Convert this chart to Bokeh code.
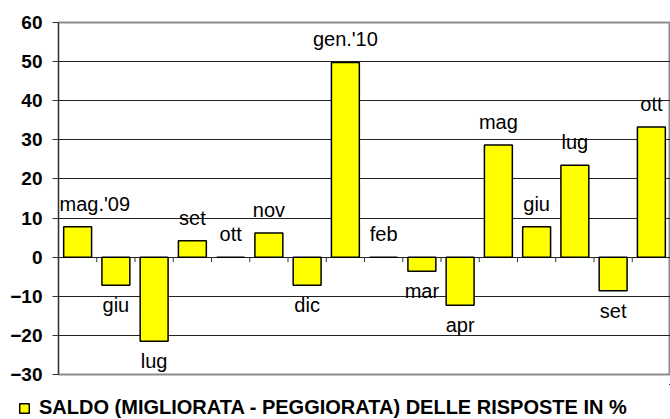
from bokeh.plotting import figure
from bokeh.layouts import column
from bokeh.models import ColumnDataSource, Range1d, FixedTicker, Legend, LegendItem
from bokeh.core.properties import value
from bokeh.embed import file_html
from bokeh.resources import INLINE

# ---- data ----
months = ["mag.'09", "giu", "lug", "set", "ott", "nov", "dic", "gen.'10",
          "feb", "mar", "apr", "mag", "giu", "lug", "set", "ott"]
saldo = [7.8, -7.2, -21.5, 4.2, 0, 6.2, -7.2, 49.8,
         0, -3.6, -12.3, 28.7, 7.8, 23.5, -8.6, 33.3]
y_ticks = [-30, -20, -10, 0, 10, 20, 30, 40, 50, 60]
series_name = "SALDO (MIGLIORATA - PEGGIORATA) DELLE RISPOSTE IN %"

FONT = "Liberation Sans"
YELLOW = "#FFFF00"

xs = list(range(len(months)))
pos = [i for i, v in enumerate(saldo) if v >= 0 and i > 0]
neg = [i for i, v in enumerate(saldo) if v < 0]

src = ColumnDataSource(dict(x=xs, top=saldo))
src_pos = ColumnDataSource(dict(x=[xs[i] for i in pos], y=[saldo[i] for i in pos],
                                label=[months[i] for i in pos]))
src_neg = ColumnDataSource(dict(x=[xs[i] for i in neg], y=[saldo[i] for i in neg],
                                label=[months[i] for i in neg]))

p = figure(width=670, height=384, output_backend="svg", toolbar_location=None,
           x_range=Range1d(-0.5, len(months) - 0.5),
           y_range=Range1d(y_ticks[0], y_ticks[-1]),
           x_axis_location=None,
           min_border_left=58, min_border_right=0, min_border_top=22,
           min_border_bottom=10)
p.frame_align = False

p.background_fill_color = "white"
p.border_fill_color = "white"
p.outline_line_color = "#8c8c8c"
p.outline_line_width = 2

# grid
p.xgrid.grid_line_color = None
p.ygrid.ticker = FixedTicker(ticks=y_ticks)
p.ygrid.grid_line_color = "#222222"
p.ygrid.grid_line_width = 1

# y axis
ax = p.yaxis[0]
ax.ticker = FixedTicker(ticks=y_ticks)
ax.axis_line_color = "#333333"
ax.major_tick_line_color = "#333333"
ax.major_tick_out = 6
ax.major_tick_in = 0
ax.minor_tick_line_color = None
ax.major_label_text_font = FONT
ax.major_label_text_font_style = "bold"
ax.major_label_text_font_size = "19px"
ax.major_label_text_color = "black"
ax.major_label_standoff = 10

# bars
bar_style = dict(fill_color=YELLOW, line_color="black", line_width=1.5)
bars = p.vbar(x="x", top="top", bottom=0, width=0.73, source=src, **bar_style)

# category tick marks below the zero line (between categories)
bounds = [i + 0.5 for i in xs]
tick_len = 5 / (352 / (y_ticks[-1] - y_ticks[0]))
p.segment(x0=bounds, y0=[0] * len(bounds), x1=bounds, y1=[-tick_len] * len(bounds),
          line_color="#333333", line_width=1)

# data labels
label_style = dict(text_font=value(FONT), text_font_size="20px", text_color="black")
p.text(x="x", y="y", text="label", source=src_pos, text_align="center",
       text_baseline="bottom", y_offset=-12, **label_style)
p.text(x="x", y="y", text="label", source=src_neg, text_align="center",
       text_baseline="top", y_offset=9, **label_style)
# first label kept inside the plot area (it sits against the y axis)
p.text(x=[xs[0] - 0.5], y=[saldo[0]], text=[months[0]], text_align="left",
       text_baseline="bottom", x_offset=1, y_offset=-12, **label_style)

# legend strip: same series renderer, its bars kept out of view
lg = figure(width=670, height=35, output_backend="svg", toolbar_location=None,
            x_axis_location=None, y_axis_location=None,
            x_range=Range1d(-200, -199), y_range=Range1d(-200, -199),
            min_border_left=0, min_border_right=0, min_border_top=0,
            min_border_bottom=0)
lg.frame_align = False
lg.outline_line_color = None
lg.xgrid.grid_line_color = None
lg.ygrid.grid_line_color = None
swatch = lg.vbar(x="x", top="top", bottom=0, width=0.73, source=src, **bar_style)
legend = Legend(items=[LegendItem(label=series_name, renderers=[swatch])],
                location=(18, 0), orientation="horizontal",
                margin=0, padding=0, glyph_width=12, glyph_height=12,
                label_standoff=9, border_line_color=None,
                background_fill_alpha=0,
                label_text_font=FONT, label_text_font_style="bold",
                label_text_font_size="20px", label_text_color="black")
lg.add_layout(legend, "center")

layout = column(p, lg, spacing=0)
open("out.html", "w").write(file_html(layout, INLINE))
